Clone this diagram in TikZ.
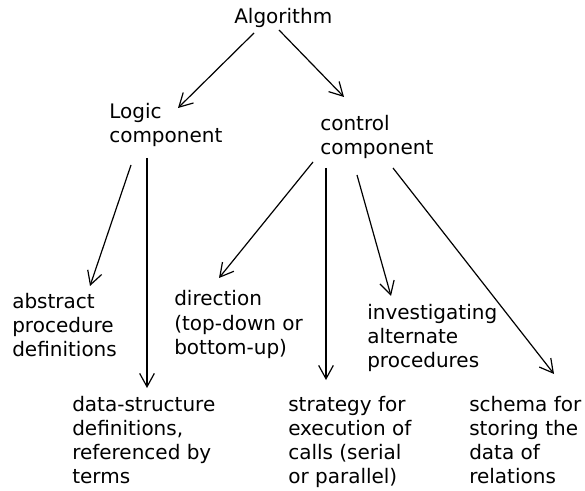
\documentclass[tikz,border=0pt]{standalone}
\usepackage{fontspec}
\setmainfont{DejaVu Sans}
\usetikzlibrary{arrows.meta,calc}

\tikzset{
  lbl/.style={anchor=base west,inner sep=0.75pt,align=left,font=\fontsize{15}{18}\selectfont},
  arr/.style={draw,line width=0.9pt,-{Straight Barb[length=10pt,width=11pt,line width=0.9pt]}}
}

\begin{document}
\begin{tikzpicture}[x=0.75pt,y=0.75pt,yscale=-1,xscale=1]
\useasboundingbox (0,0) rectangle (585,491);
%Text: top (base = baseline of last line)
\draw (233,24) node (alg) [lbl] {Algorithm};
%Text: second row
\draw (108,143) node (logic) [lbl] {Logic\\component};
\draw (319,155) node (ctrl) [lbl] {control\\component};
%Text: third row
\draw (11,357) node (abs) [lbl] {abstract\\procedure\\definitions};
\draw (173,354) node (dir) [lbl] {direction\\(top-down or\\bottom-up)};
\draw (366,368) node (inv) [lbl] {investigating\\alternate\\procedures};
%Text: bottom row
\draw (71,483) node (data) [lbl] {data-structure\\definitions,\\referenced by\\terms};
\draw (287,483) node (strat) [lbl] {strategy for\\execution of\\calls (serial\\or parallel)};
\draw (468,483) node (schema) [lbl] {schema for\\storing the\\data of\\relations};
%Arrows
\draw [arr] ($(alg.base west)+(21,9)$) -- ($(logic.base west)+(70,-35)$);
\draw [arr] ($(alg.base west)+(46,6)$) -- ($(ctrl.base west)+(25,-58)$);
\draw [arr] ($(logic.base west)+(23,22)$) -- ($(abs.base west)+(79,-71)$);
\draw [arr] ($(logic.base west)+(39,15)$) -- ($(data.base west)+(76,-95)$);
\draw [arr] ($(ctrl.base west)+(-6,7)$) -- ($(dir.base west)+(46,-76)$);
\draw [arr] ($(ctrl.base west)+(7,13)$) -- ($(strat.base west)+(39,-103)$);
\draw [arr] ($(ctrl.base west)+(38,20)$) -- ($(inv.base west)+(25,-72)$);
\draw [arr] ($(ctrl.base west)+(74,13)$) -- ($(schema.base west)+(86,-109)$);
\end{tikzpicture}
\end{document}
